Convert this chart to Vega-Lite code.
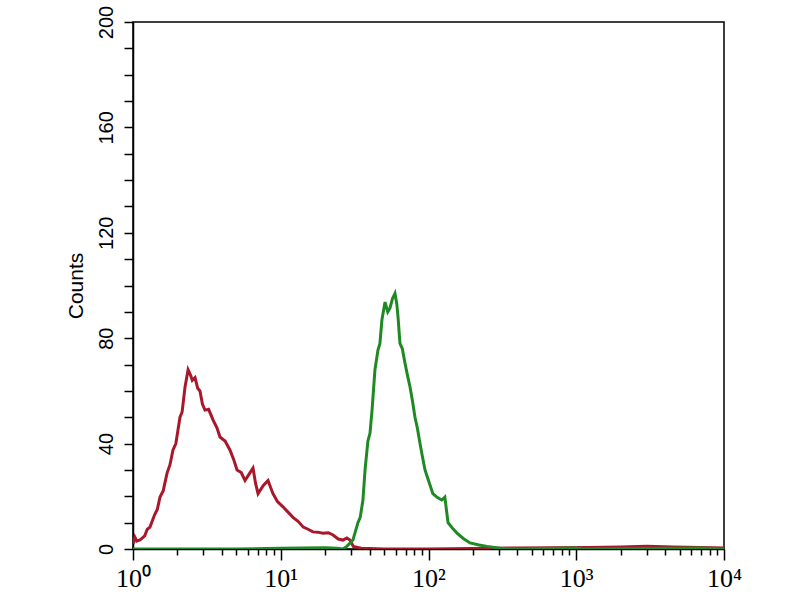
{
  "$schema": "https://vega.github.io/schema/vega-lite/v6.json",
  "width": 591,
  "height": 527,
  "autosize": {"type": "none"},
  "padding": {"left": 133, "top": 22, "right": 76, "bottom": 51},
  "background": "white",
  "config": {
    "view": {"stroke": "black", "strokeWidth": 1.5},
    "font": "Liberation Sans"
  },
  "data": {
    "values": [
      {"series": "control", "value": 1.0, "count": 2},
      {"series": "control", "value": 1.03, "count": 4.5},
      {"series": "control", "value": 1.06, "count": 3},
      {"series": "control", "value": 1.115, "count": 3.4},
      {"series": "control", "value": 1.2, "count": 5},
      {"series": "control", "value": 1.25, "count": 7.5},
      {"series": "control", "value": 1.303, "count": 8.3},
      {"series": "control", "value": 1.4, "count": 13},
      {"series": "control", "value": 1.46, "count": 15},
      {"series": "control", "value": 1.523, "count": 19.7},
      {"series": "control", "value": 1.6, "count": 22},
      {"series": "control", "value": 1.7, "count": 28.8},
      {"series": "control", "value": 1.78, "count": 32},
      {"series": "control", "value": 1.865, "count": 37.6},
      {"series": "control", "value": 1.95, "count": 40},
      {"series": "control", "value": 2.08, "count": 50},
      {"series": "control", "value": 2.15, "count": 52},
      {"series": "control", "value": 2.25, "count": 61.5},
      {"series": "control", "value": 2.36, "count": 68},
      {"series": "control", "value": 2.45, "count": 66},
      {"series": "control", "value": 2.52, "count": 64},
      {"series": "control", "value": 2.63, "count": 65},
      {"series": "control", "value": 2.74, "count": 61},
      {"series": "control", "value": 2.84, "count": 60},
      {"series": "control", "value": 2.95, "count": 55},
      {"series": "control", "value": 3.07, "count": 52.7},
      {"series": "control", "value": 3.25, "count": 53},
      {"series": "control", "value": 3.48, "count": 49},
      {"series": "control", "value": 3.7, "count": 46},
      {"series": "control", "value": 3.88, "count": 42.5},
      {"series": "control", "value": 4.2, "count": 41},
      {"series": "control", "value": 4.53, "count": 37.6},
      {"series": "control", "value": 4.8, "count": 34},
      {"series": "control", "value": 5.06, "count": 30},
      {"series": "control", "value": 5.4, "count": 29},
      {"series": "control", "value": 5.73, "count": 26},
      {"series": "control", "value": 6.2, "count": 29},
      {"series": "control", "value": 6.49, "count": 30.7},
      {"series": "control", "value": 6.75, "count": 25},
      {"series": "control", "value": 7.02, "count": 21},
      {"series": "control", "value": 7.6, "count": 24},
      {"series": "control", "value": 8.2, "count": 26},
      {"series": "control", "value": 8.86, "count": 21},
      {"series": "control", "value": 9.5, "count": 18},
      {"series": "control", "value": 10.36, "count": 16},
      {"series": "control", "value": 11.2, "count": 14},
      {"series": "control", "value": 12.1, "count": 12},
      {"series": "control", "value": 13.1, "count": 10.5},
      {"series": "control", "value": 14.2, "count": 8.3},
      {"series": "control", "value": 15.3, "count": 7.5},
      {"series": "control", "value": 16.5, "count": 6.5},
      {"series": "control", "value": 17.8, "count": 6.4},
      {"series": "control", "value": 19.3, "count": 6},
      {"series": "control", "value": 21, "count": 6.2},
      {"series": "control", "value": 22.6, "count": 5.3},
      {"series": "control", "value": 24.5, "count": 3.8},
      {"series": "control", "value": 26.4, "count": 3.4},
      {"series": "control", "value": 28, "count": 4.2},
      {"series": "control", "value": 29.4, "count": 3.4},
      {"series": "control", "value": 31, "count": 1},
      {"series": "control", "value": 35, "count": 0.3},
      {"series": "control", "value": 50, "count": 0},
      {"series": "control", "value": 100, "count": 0},
      {"series": "control", "value": 200, "count": 0.2},
      {"series": "control", "value": 400, "count": 0.4},
      {"series": "control", "value": 700, "count": 0.5},
      {"series": "control", "value": 1200, "count": 0.6},
      {"series": "control", "value": 2000, "count": 0.8},
      {"series": "control", "value": 3000, "count": 1},
      {"series": "control", "value": 4500, "count": 0.8},
      {"series": "control", "value": 7000, "count": 0.6},
      {"series": "control", "value": 10000, "count": 0.4},
      {"series": "sample", "value": 1, "count": 0},
      {"series": "sample", "value": 5, "count": 0},
      {"series": "sample", "value": 10, "count": 0.3},
      {"series": "sample", "value": 20, "count": 0.5},
      {"series": "sample", "value": 24, "count": 0.3},
      {"series": "sample", "value": 26.4, "count": 0},
      {"series": "sample", "value": 28, "count": 1},
      {"series": "sample", "value": 30.8, "count": 3.4},
      {"series": "sample", "value": 33.3, "count": 10},
      {"series": "sample", "value": 34.5, "count": 12},
      {"series": "sample", "value": 36.0, "count": 18.6},
      {"series": "sample", "value": 37.2, "count": 30},
      {"series": "sample", "value": 38.9, "count": 41},
      {"series": "sample", "value": 40.2, "count": 44},
      {"series": "sample", "value": 41.5, "count": 52.8},
      {"series": "sample", "value": 43.4, "count": 68},
      {"series": "sample", "value": 45.5, "count": 75.5},
      {"series": "sample", "value": 46.9, "count": 78},
      {"series": "sample", "value": 48.4, "count": 87},
      {"series": "sample", "value": 50.8, "count": 93.7},
      {"series": "sample", "value": 53, "count": 90},
      {"series": "sample", "value": 54.9, "count": 91.5},
      {"series": "sample", "value": 57, "count": 95},
      {"series": "sample", "value": 59.3, "count": 97},
      {"series": "sample", "value": 61, "count": 93},
      {"series": "sample", "value": 62.2, "count": 88},
      {"series": "sample", "value": 64.1, "count": 78},
      {"series": "sample", "value": 66.5, "count": 76},
      {"series": "sample", "value": 69.3, "count": 70.6},
      {"series": "sample", "value": 72, "count": 66},
      {"series": "sample", "value": 75.0, "count": 61.5},
      {"series": "sample", "value": 78, "count": 56},
      {"series": "sample", "value": 81.0, "count": 50},
      {"series": "sample", "value": 84, "count": 46},
      {"series": "sample", "value": 87.6, "count": 40},
      {"series": "sample", "value": 91, "count": 35},
      {"series": "sample", "value": 94.7, "count": 30},
      {"series": "sample", "value": 100, "count": 26},
      {"series": "sample", "value": 107, "count": 21},
      {"series": "sample", "value": 115, "count": 19.5},
      {"series": "sample", "value": 123, "count": 18.6},
      {"series": "sample", "value": 129, "count": 19.7},
      {"series": "sample", "value": 135.6, "count": 10},
      {"series": "sample", "value": 145, "count": 8},
      {"series": "sample", "value": 156, "count": 6},
      {"series": "sample", "value": 172, "count": 4},
      {"series": "sample", "value": 191, "count": 2.3},
      {"series": "sample", "value": 220, "count": 1.5},
      {"series": "sample", "value": 249, "count": 1},
      {"series": "sample", "value": 305, "count": 0.3},
      {"series": "sample", "value": 400, "count": 0},
      {"series": "sample", "value": 1000, "count": 0.4},
      {"series": "sample", "value": 1100, "count": 0},
      {"series": "sample", "value": 7000, "count": 0.4},
      {"series": "sample", "value": 10000, "count": 0}
    ]
  },
  "mark": {"type": "line", "strokeWidth": 3, "clip": true, "strokeJoin": "miter"},
  "encoding": {
    "x": {
      "field": "value",
      "type": "quantitative",
      "scale": {"type": "log", "domain": [1, 10000], "nice": false},
      "axis": {
        "title": null,
        "values": [1,2,3,4,5,6,7,8,9,10,20,30,40,50,60,70,80,90,100,200,300,400,500,600,700,800,900,1000,2000,3000,4000,5000,6000,7000,8000,9000,10000],
        "labelExpr": "datum.value == 1 ? '10⁰' : datum.value == 10 ? '10¹' : datum.value == 100 ? '10²' : datum.value == 1000 ? '10³' : datum.value == 10000 ? '10⁴' : ''",
        "tickSize": {"condition": {"test": "indexof([1,10,100,1000,10000], datum.value) >= 0", "value": 11}, "value": 6},
        "tickColor": "black",
        "tickWidth": 1.5,
        "domainColor": "black",
        "domainWidth": 1.5,
        "labelFont": "Liberation Sans Narrow",
        "labelFontSize": 26,
        "labelColor": "black",
        "labelPadding": 5,
        "labelOverlap": false,
        "labelFlush": false,
        "grid": false
      }
    },
    "y": {
      "field": "count",
      "type": "quantitative",
      "scale": {"domain": [0, 200], "nice": false},
      "axis": {
        "title": "Counts",
        "titleFontSize": 21,
        "titleFontWeight": "normal",
        "titleColor": "black",
        "titlePadding": 10,
        "values": [0,10,20,30,40,50,60,70,80,90,100,110,120,130,140,150,160,170,180,190,200],
        "labelExpr": "datum.value % 40 == 0 ? datum.label : ''",
        "labelAngle": -90,
        "labelAlign": "center",
        "labelBaseline": "bottom",
        "labelFontSize": 20,
        "labelColor": "black",
        "labelPadding": 8,
        "labelOverlap": false,
        "labelFlush": false,
        "tickSize": 9,
        "tickColor": "black",
        "tickWidth": 1.5,
        "domainColor": "black",
        "domainWidth": 1.5,
        "grid": false
      }
    },
    "color": {
      "field": "series",
      "type": "nominal",
      "scale": {"domain": ["control", "sample"], "range": ["#a8182a", "#1f8a24"]},
      "legend": null
    }
  }
}
